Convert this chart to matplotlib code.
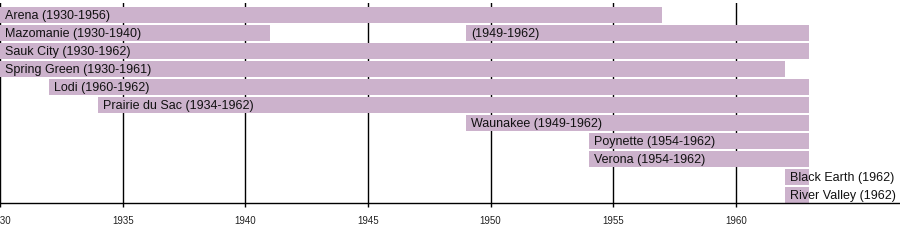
import matplotlib.pyplot as plt

plt.rcParams['font.family'] = ['Liberation Sans', 'DejaVu Sans']

# one entry per bar: row, first year, year after last, label
seg_row = [0, 1, 1, 2, 3, 4, 5, 6, 7, 8, 9, 10]
seg_start = [1930, 1930, 1949, 1930, 1930, 1932, 1934, 1949, 1954, 1954, 1962, 1962]
seg_end = [1957, 1941, 1963, 1963, 1962, 1963, 1963, 1963, 1963, 1963, 1963, 1963]
seg_label = ['Arena (1930-1956)', 'Mazomanie (1930-1940)', '(1949-1962)',
             'Sauk City (1930-1962)', 'Spring Green (1930-1961)', 'Lodi (1960-1962)',
             'Prairie du Sac (1934-1962)', 'Waunakee (1949-1962)', 'Poynette (1954-1962)',
             'Verona (1954-1962)', 'Black Earth (1962)', 'River Valley (1962)']
ticks = [1930, 1935, 1940, 1945, 1950, 1955, 1960]

fig = plt.figure(figsize=(9, 2.53), dpi=100)
ax = fig.add_axes([0, 0.1925, 1, 0.7917])

widths = [e - s for s, e in zip(seg_start, seg_end)]
ax.barh(seg_row, widths, left=seg_start, height=16/18, color='#ccb2cc', zorder=2)
for r, s, lab in zip(seg_row, seg_start, seg_label):
    ax.annotate(lab, (s, r), xytext=(3.5, 0), textcoords='offset points',
                va='center', ha='left', fontsize=9, color='#111111', zorder=3)

ax.set_xlim(1930, 1966.69)
ax.set_ylim(10 + 8/18, -12/18)
ax.set_xticks(ticks)
ax.set_xticklabels([str(t) for t in ticks], fontsize=7, color='#222222')
ax.tick_params(axis='x', length=3, width=1, pad=5.5)
ax.set_yticks([])
for t in ticks:
    ax.axvline(t, color='black', lw=1, zorder=1)
for side in ['top', 'right', 'left']:
    ax.spines[side].set_visible(False)
ax.spines['bottom'].set_linewidth(1)
ax.set_facecolor('white')

fig.savefig('out.png', dpi=100)
